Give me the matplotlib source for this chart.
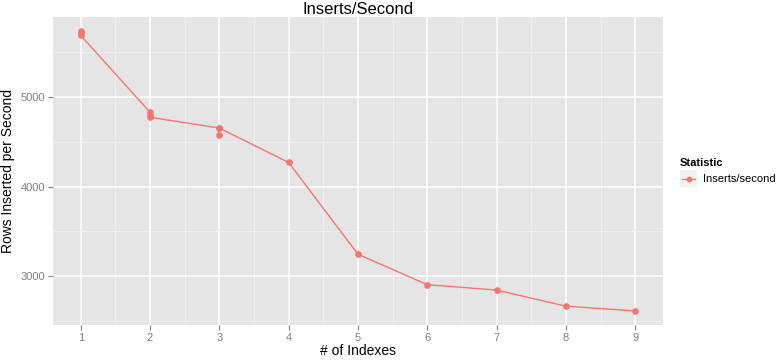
import matplotlib
matplotlib.use("Agg")
import matplotlib.pyplot as plt
from matplotlib.lines import Line2D
from matplotlib.patches import Rectangle

plt.rcParams['font.family'] = ['Liberation Sans', 'DejaVu Sans']

# data: number of indexes vs rows inserted per second (repeated runs)
indexes = [1, 1, 1, 2, 2, 2, 3, 3, 3, 4, 5, 6, 7, 8, 9]
inserts = [5735, 5715, 5690, 4830, 4800, 4775, 4655, 4575, 4655,
           4270, 3245, 2905, 2845, 2665, 2612]
x_ticks = [1, 2, 3, 4, 5, 6, 7, 8, 9]
y_ticks = [3000, 4000, 5000]
y_minor = [2500, 3500, 4500, 5500]

col = '#F8766D'
grey_txt = '#7F7F7F'

fig = plt.figure(figsize=(7.82, 3.64), dpi=100)
ax = fig.add_axes([53 / 782, 1 - 325 / 364, 610 / 782, 308 / 364])
ax.set_facecolor('#E5E5E5')

ax.plot(indexes, inserts, color=col, lw=1.0, zorder=3)
ax.plot(indexes, inserts, 'o', color=col, ms=4.8, mec='none', zorder=4)

ax.set_xlim(0.6, 9.4)
ax.set_ylim(2455, 5895)
ax.set_xticks(x_ticks)
ax.set_yticks(y_ticks)
ax.set_xticks([x + 0.5 for x in x_ticks[:-1]], minor=True)
ax.set_yticks(y_minor, minor=True)
ax.grid(which='major', color='white', lw=1.1)
ax.grid(which='minor', color='#F2F2F2', lw=0.6)
ax.set_axisbelow(True)
for s in ax.spines.values():
    s.set_visible(False)
ax.tick_params(which='major', length=3.5, width=0.8, color=grey_txt,
               labelcolor=grey_txt, labelsize=8, pad=2)
ax.tick_params(which='minor', length=0)

ax.set_title('Inserts/Second', fontsize=12, pad=2)
ax.set_xlabel('# of Indexes', fontsize=10, labelpad=1)
ax.set_ylabel('Rows Inserted per Second', fontsize=10, labelpad=4)

# legend drawn in figure pixels, ggplot-style
fig.text(680 / 782, 1 - 163 / 364, 'Statistic', fontsize=8,
         fontweight='bold', va='center', ha='left')
fig.patches.append(Rectangle((680 / 782, 1 - 187 / 364), 17 / 782, 17 / 364,
                             transform=fig.transFigure, facecolor='#F2F2F2',
                             edgecolor='none'))
fig.lines.append(Line2D([682 / 782, 695 / 782], [1 - 178.5 / 364] * 2,
                        transform=fig.transFigure, color=col, lw=1.0))
fig.lines.append(Line2D([688.5 / 782], [1 - 178.5 / 364], marker='o',
                        transform=fig.transFigure, color=col, ms=4.2, mec='none'))
fig.text(703 / 782, 1 - 178.5 / 364, 'Inserts/second', fontsize=8,
         va='center', ha='left')

fig.savefig('out.png', dpi=100)
